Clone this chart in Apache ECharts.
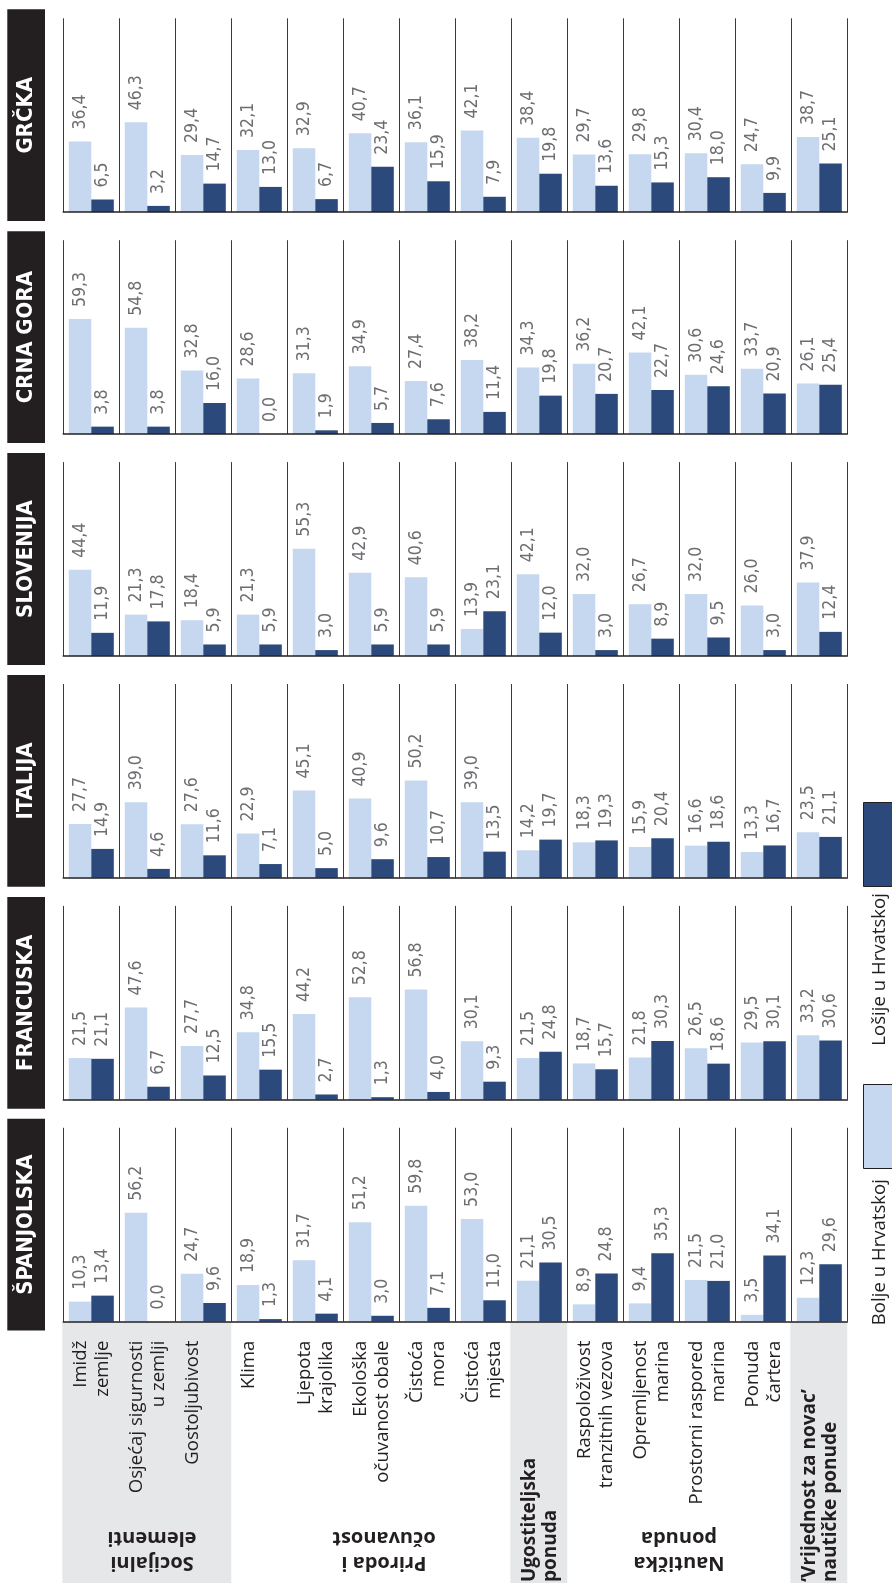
<!DOCTYPE html>
<html>
<head>
<meta charset="utf-8">
<script src="https://cdn.jsdelivr.net/npm/echarts@6/dist/echarts.min.js"></script>
<style>
html,body{margin:0;padding:0;background:#ffffff;}
#chart{width:892px;height:1583px;}
</style>
</head>
<body>
<div id="chart"></div>
<script>
// ---------- DATA ----------
const categories = [
  'Imidž\nzemlje',
  'Osjećaj sigurnosti\nu zemlji',
  'Gostoljubivost',
  'Klima',
  'Ljepota\nkrajolika',
  'Ekološka\nočuvanost obale',
  'Čistoća\nmora',
  'Čistoća\nmjesta',
  'Ugostiteljska\nponuda',
  'Raspoloživost\ntranzitnih vezova',
  'Opremljenost\nmarina',
  'Prostorni raspored\nmarina',
  'Ponuda\nčartera',
  '‘Vrijednost za novac’\nnautičke ponude'
];
const boldCategoryIdx = [8, 13];
const countries = ['GRČKA', 'CRNA GORA', 'SLOVENIJA', 'ITALIJA', 'FRANCUSKA', 'ŠPANJOLSKA'];
const seriesNames = ['Bolje u Hrvatskoj', 'Lošije u Hrvatskoj'];

const greeceBetter   = [36.4, 46.3, 29.4, 32.1, 32.9, 40.7, 36.1, 42.1, 38.4, 29.7, 29.8, 30.4, 24.7, 38.7];
const greeceWorse    = [6.5, 3.2, 14.7, 13.0, 6.7, 23.4, 15.9, 7.9, 19.8, 13.6, 15.3, 18.0, 9.9, 25.1];
const montenegroBetter = [59.3, 54.8, 32.8, 28.6, 31.3, 34.9, 27.4, 38.2, 34.3, 36.2, 42.1, 30.6, 33.7, 26.1];
const montenegroWorse  = [3.8, 3.8, 16.0, 0.0, 1.9, 5.7, 7.6, 11.4, 19.8, 20.7, 22.7, 24.6, 20.9, 25.4];
const sloveniaBetter = [44.4, 21.3, 18.4, 21.3, 55.3, 42.9, 40.6, 13.9, 42.1, 32.0, 26.7, 32.0, 26.0, 37.9];
const sloveniaWorse  = [11.9, 17.8, 5.9, 5.9, 3.0, 5.9, 5.9, 23.1, 12.0, 3.0, 8.9, 9.5, 3.0, 12.4];
const italyBetter    = [27.7, 39.0, 27.6, 22.9, 45.1, 40.9, 50.2, 39.0, 14.2, 18.3, 15.9, 16.6, 13.3, 23.5];
const italyWorse     = [14.9, 4.6, 11.6, 7.1, 5.0, 9.6, 10.7, 13.5, 19.7, 19.3, 20.4, 18.6, 16.7, 21.1];
const franceBetter   = [21.5, 47.6, 27.7, 34.8, 44.2, 52.8, 56.8, 30.1, 21.5, 18.7, 21.8, 26.5, 29.5, 33.2];
const franceWorse    = [21.1, 6.7, 12.5, 15.5, 2.7, 1.3, 4.0, 9.3, 24.8, 15.7, 30.3, 18.6, 30.1, 30.6];
const spainBetter    = [10.3, 56.2, 24.7, 18.9, 31.7, 51.2, 59.8, 53.0, 21.1, 8.9, 9.4, 21.5, 3.5, 12.3];
const spainWorse     = [13.4, 0.0, 9.6, 1.3, 4.1, 3.0, 7.1, 11.0, 30.5, 24.8, 35.3, 21.0, 34.1, 29.6];

const groupLabels = ['Socijalni\nelementi', 'Priroda i\nočuvanost', 'Nautička\nponuda'];

const betterByCountry = [greeceBetter, montenegroBetter, sloveniaBetter, italyBetter, franceBetter, spainBetter];
const worseByCountry  = [greeceWorse, montenegroWorse, sloveniaWorse, italyWorse, franceWorse, spainWorse];

// ---------- STYLE / LAYOUT ----------
const LIGHT = '#c5d8ef';
const DARK = '#2b4a7b';
const INK = '#231f20';
const GRAYBAND = '#e6e7e8';
const NARROW = '"Liberation Sans Narrow", "DejaVu Sans Condensed", Roboto, sans-serif';
const HUMAN = '"Open Sans", "Noto Sans", sans-serif';

const TOP0 = 18.3, STEP = 221.9, PH = 193.8, GL = 63.3, GW = 784;
const CW = GW / categories.length;
const BASE = TOP0 + 5 * STEP + PH;

const chart = echarts.init(document.getElementById('chart'), null, {renderer: 'canvas'});

const grids = [], xAxes = [], yAxes = [], series = [];
const fmt = v => Number(v).toFixed(1).replace('.', ',');

countries.forEach((c, k) => {
  grids.push({left: GL, top: TOP0 + k * STEP, width: GW, height: PH, outerBoundsMode: 'none', containLabel: false});
  const isBottom = k === countries.length - 1;
  xAxes.push({
    type: 'category', gridIndex: k, data: categories, boundaryGap: true, z: 3,
    axisLine: {show: true, onZero: false, lineStyle: {color: INK, width: 1.6}},
    axisTick: {show: false},
    splitLine: {show: true, interval: 0, lineStyle: {color: '#3a3a3a', width: 1}},
    axisLabel: isBottom ? {
      show: true, interval: 0, rotate: 90, margin: 19,
      fontFamily: HUMAN, fontSize: 18.6, lineHeight: 22, color: INK,
      formatter: (v, i) => boldCategoryIdx.includes(i) ? '' : (v.indexOf('\n') < 0 ? v + '\n ' : v)
    } : {show: false}
  });
  yAxes.push({type: 'value', gridIndex: k, min: 0, max: 100, show: false});
  [betterByCountry[k], worseByCountry[k]].forEach((arr, s) => {
    series.push({
      type: 'bar', name: seriesNames[s], xAxisIndex: k, yAxisIndex: k,
      data: arr, barWidth: 22.5, barGap: '0%',
      itemStyle: {color: s === 0 ? LIGHT : DARK},
      label: {
        show: true, position: 'top', rotate: 90, align: 'left', verticalAlign: 'middle',
        distance: 12, fontFamily: NARROW, fontSize: 17.5, color: '#6d6e71',
        formatter: p => fmt(p.value)
      },
      emphasis: {disabled: true},
      silent: true
    });
  });
});

// ---------- GRAPHICS ----------
const graphics = [];
function txt(x, y, rot, text, font, fill, align, vAlign, lineHeight) {
  return {
    type: 'text', x: x, y: y, rotation: rot, z: 10,
    style: {text: text, font: font, fill: fill, align: align, verticalAlign: vAlign,
            textAlign: align, textVerticalAlign: vAlign, lineHeight: lineHeight}
  };
}
// gray bands under category axis
[[0, 2], [8, 8], [13, 13]].forEach(([a, b]) => {
  graphics.push({type: 'rect', z: -10,
    shape: {x: GL + a * CW - 1, y: BASE, width: (b - a + 1) * CW + 1, height: 1583 - BASE + 2},
    style: {fill: GRAYBAND}});
});
// country title boxes
countries.forEach((c, k) => {
  const top = TOP0 + k * STEP;
  graphics.push({type: 'rect', z: 5, shape: {x: 7.3, y: top - 9, width: 37.7, height: PH + 18}, style: {fill: INK}});
  graphics.push(txt(26.2, top + PH / 2, Math.PI / 2, c, 'bold 22px ' + NARROW, '#ffffff', 'center', 'middle', 26));
});
// group labels (upside-down)
[[152, 1550], [384, 1550], [679, 1550]].forEach(([x, y], i) => {
  graphics.push(txt(x, y, Math.PI, groupLabels[i], 'bold 20px ' + HUMAN, INK, 'center', 'middle', 25));
});
// bold category labels inside gray bands
boldCategoryIdx.forEach(i => {
  graphics.push(txt(GL + (i + 0.5) * CW + 1, 1582, Math.PI / 2, categories[i], 'bold 19px ' + HUMAN, INK, 'left', 'middle', 21));
});
// legend
graphics.push({type: 'rect', z: 5, shape: {x: 863.5, y: 802.5, width: 30, height: 84}, style: {fill: DARK, stroke: INK, lineWidth: 1}});
graphics.push({type: 'rect', z: 5, shape: {x: 863.5, y: 1084.5, width: 30, height: 84}, style: {fill: LIGHT, stroke: INK, lineWidth: 1}});
graphics.push(txt(880, 893, Math.PI / 2, seriesNames[1], '18.6px ' + HUMAN, INK, 'right', 'middle', 20));
graphics.push(txt(880, 1179, Math.PI / 2, seriesNames[0], '18.6px ' + HUMAN, INK, 'right', 'middle', 20));

chart.setOption({
  animation: false,
  backgroundColor: '#ffffff',
  grid: grids,
  xAxis: xAxes,
  yAxis: yAxes,
  series: series,
  graphic: {elements: graphics}
});
</script>
</body>
</html>
